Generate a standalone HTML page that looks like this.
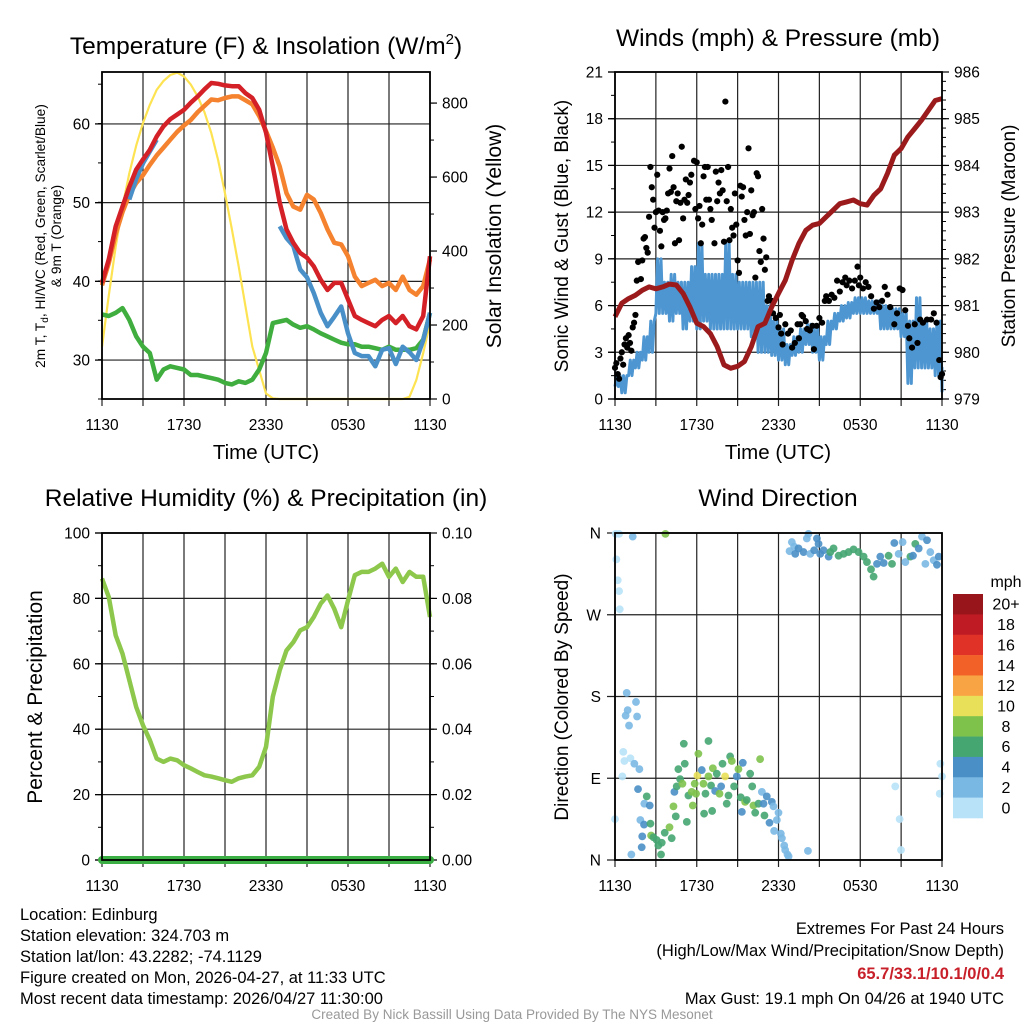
<!DOCTYPE html>
<html><head><meta charset="utf-8"><style>
html,body{margin:0;padding:0;background:#fff;}
svg{display:block;font-family:"Liberation Sans",sans-serif;}
</style></head><body>
<svg id="chart" width="1024" height="1024" viewBox="0 0 1024 1024" xmlns="http://www.w3.org/2000/svg">
<rect x="0" y="0" width="1024" height="1024" fill="#fff"/>
<text x="266" y="54" font-size="24.5" text-anchor="middle">Temperature (F) &amp; Insolation (W/m<tspan font-size="15" dy="-10">2</tspan><tspan dy="10">)</tspan></text>
<text x="778" y="46" font-size="24.5" text-anchor="middle">Winds (mph) &amp; Pressure (mb)</text>
<text x="266" y="506" font-size="24.5" text-anchor="middle">Relative Humidity (%) &amp; Precipitation (in)</text>
<text x="778" y="506" font-size="24.5" text-anchor="middle">Wind Direction</text>
<text x="266" y="459" font-size="20.5" text-anchor="middle">Time (UTC)</text>
<text x="778" y="459" font-size="20.5" text-anchor="middle">Time (UTC)</text>
<text transform="translate(45,236) rotate(-90)" font-size="13.7" text-anchor="middle"><tspan x="0" y="0">2m T, T<tspan font-size="10" dy="3">d</tspan><tspan dy="-3">, HI/WC (Red, Green, Scarlet/Blue)</tspan></tspan><tspan x="0" y="16">&amp; 9m T (Orange)</tspan></text>
<text transform="translate(501,236) rotate(-90)" font-size="21" text-anchor="middle">Solar Insolation (Yellow)</text>
<text transform="translate(568,236) rotate(-90)" font-size="19" text-anchor="middle">Sonic Wind &amp; Gust (Blue, Black)</text>
<text transform="translate(1015,236) rotate(-90)" font-size="19" text-anchor="middle">Station Pressure (Maroon)</text>
<text transform="translate(42,697) rotate(-90)" font-size="21" text-anchor="middle">Percent &amp; Precipitation</text>
<text transform="translate(568,697) rotate(-90)" font-size="19" text-anchor="middle">Direction (Colored By Speed)</text>
<g font-size="16.5">
<text x="20" y="920">Location: Edinburg</text>
<text x="20" y="941">Station elevation: 324.703 m</text>
<text x="20" y="962">Station lat/lon: 43.2282; -74.1129</text>
<text x="20" y="983">Figure created on Mon, 2026-04-27, at 11:33 UTC</text>
<text x="20" y="1004">Most recent data timestamp: 2026/04/27 11:30:00</text>
</g>
<g font-size="16.5" text-anchor="end">
<text x="1004" y="934">Extremes For Past 24 Hours</text>
<text x="1004" y="956">(High/Low/Max Wind/Precipitation/Snow Depth)</text>
<text x="1004" y="979" fill="#c8202a" font-weight="bold">65.7/33.1/10.1/0/0.4</text>
<text x="1004" y="1004">Max Gust: 19.1 mph On 04/26 at 1940 UTC</text>
</g>
<text x="512" y="1019" font-size="13.5" fill="#999" text-anchor="middle">Created By Nick Bassill Using Data Provided By The NYS Mesonet</text>
</svg>
<script>
// ---------- DATA (half-hourly, 11:30 UTC -> 11:30 UTC) ----------
const xTickLabels=["1130","1730","2330","0530","1130"];
const tempTicks=[30,40,50,60];
const insTicks=[0,200,400,600,800];
const windTicks=[0,3,6,9,12,15,18,21];
const presTicks=[979,980,981,982,983,984,985,986];
const rhTicks=[0,20,40,60,80,100];
const precipTicks=["0.00","0.02","0.04","0.06","0.08","0.10"];
const dirTickLabels=["N","E","S","W","N"];
const temp2m=[39.8,42.8,47,49.5,52,54.2,55.5,56.7,58.4,59.7,60.6,61.2,61.8,62.7,63.5,64.4,65.2,65.1,64.9,64.8,64.8,63.9,63.3,61.8,58.9,54.6,50,46.6,44.9,43.6,43,41.9,40.2,38.9,39.8,39.8,37.7,35.6,35.1,34.7,34.3,35.1,35.6,34.7,35.6,34.3,33.9,35.6,43.2];
const temp9m=[39.5,42.3,46,48.8,51,52.5,53.5,54.8,56,57,58,59,59.8,60.5,61.5,62.3,63.1,63,63.3,63.5,63.5,63,62.5,61,59.1,57,54.6,51.2,49.5,49.1,51,50.4,48.7,46.6,44.9,44.7,43.2,40.6,39.4,39.8,40.2,39.4,39.8,38.9,40.6,38.9,38.3,39.4,42.8];
const windChill=[null,null,null,null,50.4,53,55,56.5,58,null,null,null,null,null,null,null,null,null,null,null,null,null,null,null,null,null,47,45.5,44.5,41.5,40.5,38.5,36,34.3,35.5,36.8,33.4,30.9,30.5,30.5,29.2,31.3,31.5,29.5,31.7,31,30,32.5,36];
const dewpoint=[35.8,35.6,36,36.6,35.1,33,31.7,30.9,27.5,28.8,29.2,29,28.8,28.1,28.1,27.9,27.7,27.5,27.1,26.9,27.3,27.1,27.5,28.8,30.9,34.7,34.9,35.1,34.5,34.1,34.3,33.9,33.4,33,32.6,32.2,32,32,31.7,31.7,31.5,31.3,31.7,31.3,31.3,31.3,31.5,32.6,36];
const insolation=[141,280,412,520,610,685,746,795,836,860,876,882,872,850,818,775,719,645,556,460,358,250,142,78,15,2,0,0,0,0,0,0,0,0,0,0,0,0,0,0,0,0,0,0,0,6,51,124,205];
const windLow=[0.8,0.4,1.5,2,2.5,3,5.5,5.5,5,5.5,4.5,5,4.5,5,4.5,4.5,4.5,4.5,4.5,4.5,4,3,3,2.8,2.5,2.2,2.8,3,3.5,3,2.5,3.5,4.5,5,5.2,5.5,5.5,5.5,5.5,4.5,4.5,4.5,4,1,2,2,2,1.5,0.5];
const windHigh=[1.5,1.5,2.5,3,4,5,9,7.5,8,7.5,7.5,8.5,10,8,8,8,10,8,7.5,7.5,7.5,7.5,6,5,4.5,3.5,4,4.5,4.8,4.5,4,5,5.5,6,6.2,6.5,6.5,6.3,6.3,6,5.8,5.8,5.5,5,6.5,5,4.5,5,2];
const pressure=[980.76,981.05,981.15,981.22,981.33,981.40,981.36,981.40,981.46,981.44,981.26,980.97,980.62,980.55,980.40,980.12,979.73,979.66,979.70,979.80,980.12,980.55,980.62,980.97,981.26,981.54,981.97,982.33,982.61,982.72,982.76,982.90,983.04,983.18,983.22,983.26,983.18,983.15,983.36,983.50,983.83,984.22,984.36,984.61,984.79,984.97,985.18,985.39,985.43];
const gustHours=[0,0.1,0.2,0.3,0.4,0.5,0.6,0.7,0.8,0.9,1.0,1.1,1.2,1.3,1.4,1.5,1.6,1.7,1.9,2.0,2.1,2.2,2.3,2.4,2.5,2.6,2.7,2.8,2.9,3.0,3.1,3.2,3.3,3.4,3.5,3.6,3.7,3.8,3.9,4.0,4.1,4.2,4.3,4.4,4.5,4.6,4.7,4.8,4.9,5.0,5.1,5.2,5.3,5.4,5.5,5.6,5.8,5.9,6.0,6.1,6.2,6.3,6.4,6.5,6.6,6.7,6.8,6.9,7.0,7.1,7.3,7.4,7.5,7.6,7.7,7.8,7.9,8.0,8.1,8.2,8.3,8.4,8.5,8.6,8.7,8.8,8.9,9.0,9.1,9.2,9.3,9.4,9.5,9.6,9.7,9.8,9.9,10.0,10.1,10.2,10.3,10.4,10.5,10.6,10.7,10.8,10.9,11.0,11.1,11.2,11.3,11.5,11.6,11.8,12.0,12.1,12.2,12.3,12.5,12.7,12.9,13.0,13.2,13.4,13.5,13.6,13.7,13.8,14.0,14.1,14.3,14.5,14.6,14.8,15.0,15.2,15.4,15.5,15.7,15.9,16.1,16.3,16.5,16.7,16.9,17.0,17.2,17.4,17.6,17.8,17.9,18.0,18.2,18.4,18.6,18.8,19.0,19.2,19.4,19.6,19.8,20.0,20.2,20.5,20.7,20.9,21.1,21.3,21.5,21.6,21.8,22.0,22.2,22.4,22.6,22.9,23.2,23.4,23.6,23.8,23.9,24.0];
const gustMph=[2,2.3,1.6,1.3,2.6,3,2.2,3.5,3.9,3.3,4.1,3.6,3.1,4.6,4.9,5.4,7.6,8.8,7.7,8.9,10.3,10.4,9.7,9.4,11.7,14.9,13.6,12.8,11,12,14.4,12.1,10.8,9.8,12,11.5,11.6,12.1,13.2,14.8,13.3,15.6,13.6,10,12.7,13.2,10.2,12.6,16.2,11.6,12.8,14.1,12.6,13.1,13.9,14.4,15.3,12.2,15.2,11.6,12.4,10,11.2,14.3,14.9,12.8,14.9,12.8,12.2,11.5,10,14.6,12.7,13.9,13.2,14.7,13.4,10.1,19.1,12.7,14.9,10.2,12.2,11,10.5,13.2,11.2,8.9,8.1,13.7,13,13.6,11.5,10.5,12,16.1,10.6,13.4,11.8,12,7.8,14.5,14.3,9.5,8.8,12.2,10.3,8.3,9.1,6.3,6.6,6.3,5.5,5.2,4.6,5.4,4.2,3.5,4.8,4.2,4.4,3.3,3.6,4.8,3.9,4.8,5.4,5.3,5,4.5,4.4,4.7,3.2,4.7,5.2,4.9,6.3,6.6,6.3,6.7,6.5,7.6,6.9,7.5,7.8,7.3,7.6,7.1,7.6,8.5,7.3,7.8,7.1,7.5,7.2,6.6,5.8,6.2,5.9,6.3,7.2,6.7,5.9,4.8,5.5,7.1,7,5.7,4.7,3.9,3.3,4.8,3.6,5.1,4.9,5.1,5.1,5.5,4.9,2.5,1.4,1.6];
const rh=[86.1,80.4,68.7,63.1,55,46.8,41.2,36.7,31,30,31,30.5,29,28,26.9,25.9,25.5,25,24.4,23.9,25,25.5,25.9,28.5,34.6,49.9,58,64.1,66.6,70.2,71.2,74.3,78.4,80.9,76.8,71.2,79.4,87.1,88.1,88.1,89.1,90.6,86.6,89.1,85,88.1,86.6,86.6,74.3];
const precip=[0,0,0,0,0,0,0,0,0,0,0,0,0,0,0,0,0,0,0,0,0,0,0,0,0,0,0,0,0,0,0,0,0,0,0,0,0,0,0,0,0,0,0,0,0,0,0,0,0];
const dirHours=[0,0.86,1.54,0.78,0.93,1.03,1.62,0.61,0.69,1.13,1.42,1.79,0.54,1.69,2.33,2.15,2.55,1.86,2.13,2.6,2.0,1.96,1.2,2.65,2.82,3.06,3.43,3.18,3.38,3.65,4.0,4.16,4.46,4.29,4.36,4.53,4.65,4.78,4.95,5.12,5.05,5.27,5.39,5.71,5.63,5.85,5.95,6.05,6.12,6.37,6.49,6.54,6.64,6.86,6.86,7.05,7.18,7.35,7.47,7.13,7.67,7.79,7.89,8.08,8.2,8.33,8.45,8.57,8.74,8.94,9.06,9.38,9.23,9.31,9.55,9.67,9.92,10.07,10.16,10.29,10.65,10.53,10.78,10.9,10.97,11.14,11.34,11.51,11.63,11.88,12.0,11.68,12.17,12.25,12.42,12.49,12.66,12.74,14.16,20.57,20.89,20.99,23.88,24.0,23.83,0.05,0.3,1.3,0.1,0.2,0.3,0.35,3.7,12.98,13.15,12.81,13.23,13.47,13.84,14.08,14.2,14.33,14.62,14.82,14.94,15.06,15.31,15.68,15.8,16.04,16.41,16.78,17.14,17.51,17.88,18.25,18.49,18.79,18.98,19.23,19.47,19.72,20.08,20.33,20.5,20.82,21.11,21.31,21.68,21.87,22.04,22.29,22.53,22.78,22.9,23.14,23.39,23.63,23.76];
const dirDegrees=[45,184,174,159,165,148,158,119,109,112,106,100,92,78,70,62,60,44,39,40,26,14,6,27,25,22,19,16,6,30,36,24,48,59,75,81,100,89,84,106,128,42,71,60,75,84,73,93,117,99,84,51,73,131,92,82,101,76,95,54,73,81,106,92,62,71,114,109,81,92,100,107,69,53,64,66,95,81,60,52,111,62,75,62,49,70,41,64,59,44,52,32,29,24,16,11,6,4,10,81,45,11,106,92,73,359,359,356,331,308,296,276,359,350,345,340,337,343,339,354,359,337,341,354,348,337,341,334,339,343,335,337,339,342,339,334,328,320,312,326,334,327,335,326,349,337,350,328,334,335,348,343,356,326,352,339,330,325,334];
const dirSpeedBin=[0,1,1,1,1,1,1,0,0,0,1,1,0,2,3,1,2,1,2,3,2,2,1,4,3,3,3,3,3,3,4,3,3,4,2,3,3,3,4,3,3,3,3,4,4,4,4,5,4,2,4,3,3,3,4,3,4,2,3,3,4,2,3,5,3,3,3,4,3,2,4,2,3,2,4,3,3,3,4,3,4,3,1,2,3,2,2,2,1,1,1,1,1,1,1,1,1,1,1,0,0,0,0,0,0,0,0,1,0,0,0,0,4,1,1,1,2,2,2,1,1,1,2,2,2,2,2,2,3,3,3,3,3,3,3,3,3,3,3,2,2,2,3,3,2,1,1,1,3,2,3,2,1,1,2,1,1,2,2,0];
const speedLabels=["0","2","4","6","8","10","12","14","16","18","20+"];
const speedColors=["#b8e2f8","#7ab8e4","#4a8fc6","#45a672","#7ec24b","#e8e058","#f9a444","#f26228","#e13228","#be1b24","#98151b"];

// ---------- helpers ----------
const NS="http://www.w3.org/2000/svg";
const svg=document.getElementById("chart");
function el(tag,attrs,parent){const e=document.createElementNS(NS,tag);for(const k in attrs)e.setAttribute(k,attrs[k]);(parent||svg).appendChild(e);return e;}
const P1={x0:102,x1:430,y0:72,y1:399},P2={x0:615,x1:942,y0:72,y1:399},P3={x0:102,x1:430,y0:533,y1:860},P4={x0:615,x1:942,y0:533,y1:860};
function xs(P){return t=>P.x0+t/24*(P.x1-P.x0);}
function ys(P,lo,hi){return v=>P.y1-(v-lo)/(hi-lo)*(P.y1-P.y0);}
const hourOf=i=>i*0.5;

function frame(P,name){
  const g=el("g",{});
  
  
  for(let k=0;k<=8;k++){
    const x=P.x0+k*(P.x1-P.x0)/8;
    const l=el("line",{x1:x,x2:x,y1:P.y0,y2:P.y1+7,stroke:"#222","stroke-width":1.2},g);
    
    
  }
  xTickLabels.forEach((s,k)=>{
    const x=P.x0+k*(P.x1-P.x0)/4;
    const t=el("text",{x:x,y:P.y1+31,"font-size":15.5,"text-anchor":"middle"},g);
    t.textContent=s;
    
    
  });
  return g;
}
function border(P,name){
  const r=el("rect",{x:P.x0,y:P.y0,width:P.x1-P.x0,height:P.y1-P.y0,fill:"none",stroke:"#000","stroke-width":1.8});
  
  
}
function yAxis(P,ticks,labels,lo,hi,side,grid,minorStep,name){
  const y=ys(P,lo,hi);
  const g=el("g",{});
  
  
  const xa=side==="left"?P.x0:P.x1, d=side==="left"?-1:1;
  if(minorStep){for(let v=lo;v<=hi+1e-9;v+=minorStep){const yy=y(v);if(yy<P.y0-0.5)continue;const m=el("line",{x1:xa,x2:xa+d*4,y1:yy,y2:yy,stroke:"#000","stroke-width":1},g);}}
  ticks.forEach((v,k)=>{
    const yy=y(v);
    if(grid){const gl=el("line",{x1:P.x0-7,x2:P.x1,y1:yy,y2:yy,stroke:"#222","stroke-width":1.2},g);}
    const tk=el("line",{x1:xa,x2:xa+d*7,y1:yy,y2:yy,stroke:"#000","stroke-width":1.2},g);
    
    
    const t=el("text",{x:xa+d*12,y:yy+5.5,"font-size":15.5,"text-anchor":side==="left"?"end":"start"},g);
    t.textContent=labels[k];
    
    
  });
}
function linePath(vals,xf,yf){let d="",pen=false;vals.forEach((v,i)=>{if(v===null){pen=false;return;}d+=(pen?"L":"M")+xf(hourOf(i)).toFixed(1)+","+yf(v).toFixed(1);pen=true;});return d;}

// ---------- Panel 1: temperature ----------
frame(P1,"temp-panel");
const x1=xs(P1), yT=ys(P1,25.05,66.6), yI=ys(P1,0,884);
yAxis(P1,tempTicks,tempTicks.map(String),25.05,66.6,"left",true,5,"temp-y-axis");
yAxis(P1,insTicks,insTicks.map(String),0,884,"right",false,100,"insolation-y-axis");
const insl=el("path",{d:linePath(insolation,x1,yI),fill:"none",stroke:"#fde352","stroke-width":2.2,"stroke-linejoin":"round"});


const dpl=el("path",{d:linePath(dewpoint,x1,yT),fill:"none",stroke:"#3fae3f","stroke-width":4.5,"stroke-linejoin":"round"});


const t9=el("path",{d:linePath(temp9m,x1,yT),fill:"none",stroke:"#f5822e","stroke-width":4.5,"stroke-linejoin":"round"});


const wcl=el("path",{d:linePath(windChill,x1,yT),fill:"none",stroke:"#4a90c8","stroke-width":4.5,"stroke-linejoin":"round"});


const t2=el("path",{d:linePath(temp2m,x1,yT),fill:"none",stroke:"#d42027","stroke-width":4.5,"stroke-linejoin":"round"});


border(P1,"temp-panel");

// ---------- Panel 2: winds ----------
frame(P2,"winds-panel");
const x2=xs(P2), yW=ys(P2,0,21), yP=ys(P2,979,986);
yAxis(P2,windTicks,windTicks.map(String),0,21,"left",true,1.5,"wind-y-axis");
yAxis(P2,presTicks,presTicks.map(String),979,986,"right",false,0.2,"pressure-y-axis");
let wd="";
windLow.forEach((lo,i)=>{const t=hourOf(i),hi=windHigh[i];
  [[0,lo],[0.125,hi],[0.25,lo],[0.375,hi]].forEach(([o,v])=>{const tt=Math.min(24,t+o);wd+=(wd===""?"M":"L")+x2(tt).toFixed(1)+","+yW(v).toFixed(1);});});
const wl=el("path",{d:wd,fill:"none",stroke:"#4e96d1","stroke-width":3,"stroke-linejoin":"round"});


const gg=el("g",{});


gustHours.forEach((h,i)=>{const c=el("circle",{cx:x2(h),cy:yW(gustMph[i]),r:3.1,fill:"#000"},gg);
  
  });
const pl=el("path",{d:linePath(pressure,x2,yP),fill:"none",stroke:"#9b1a1c","stroke-width":5,"stroke-linejoin":"round"});


border(P2,"winds-panel");

// ---------- Panel 3: RH ----------
frame(P3,"rh-panel");
const x3=xs(P3), yR=ys(P3,0,100), yPr=ys(P3,0,0.1);
yAxis(P3,rhTicks,rhTicks.map(String),0,100,"left",true,10,"rh-y-axis");
yAxis(P3,rhTicks,precipTicks,0,100,"right",false,10,"precip-y-axis");
const rl=el("path",{d:linePath(rh,x3,yR),fill:"none",stroke:"#8dc84c","stroke-width":4.5,"stroke-linejoin":"round"});


const prl=el("path",{d:linePath(precip,x3,yPr),fill:"none",stroke:"#3caf44","stroke-width":8,"stroke-linecap":"round"});


border(P3,"rh-panel");

// ---------- Panel 4: wind direction ----------
frame(P4,"direction-panel");
const x4=xs(P4), yD=ys(P4,0,360);
const dg=el("g",{});


dirTickLabels.forEach((s,k)=>{const yy=yD(k*90);
  const gl=el("line",{x1:P4.x0-8,x2:P4.x1,y1:yy,y2:yy,stroke:"#222","stroke-width":1.2},dg);
  
  
  const t=el("text",{x:P4.x0-14,y:yy+5.5,"font-size":15.5,"text-anchor":"end"},dg);
  t.textContent=s;
  
  });
const pg=el("g",{"fill-opacity":0.9});


dirHours.forEach((h,i)=>{const c=el("circle",{cx:x4(h),cy:yD(dirDegrees[i]),r:3.9,fill:speedColors[dirSpeedBin[i]]},pg);
  
  });
border(P4,"direction-panel");

// legend
const lg=el("g",{});


const lt=el("text",{x:1006,y:587,"font-size":16,"text-anchor":"middle"},lg);
lt.textContent="mph";


const bh=(818-594)/speedColors.length;
speedColors.slice().reverse().forEach((c,k)=>{
  const r=el("rect",{x:953,y:594+k*bh,width:30,height:bh+0.3,fill:c},lg);
  
  
  const t=el("text",{x:1006,y:594+k*bh+bh/2+5.5,"font-size":16,"text-anchor":"middle"},lg);
  t.textContent=speedLabels[speedColors.length-1-k];
  
  
});
</script>
</body></html>
